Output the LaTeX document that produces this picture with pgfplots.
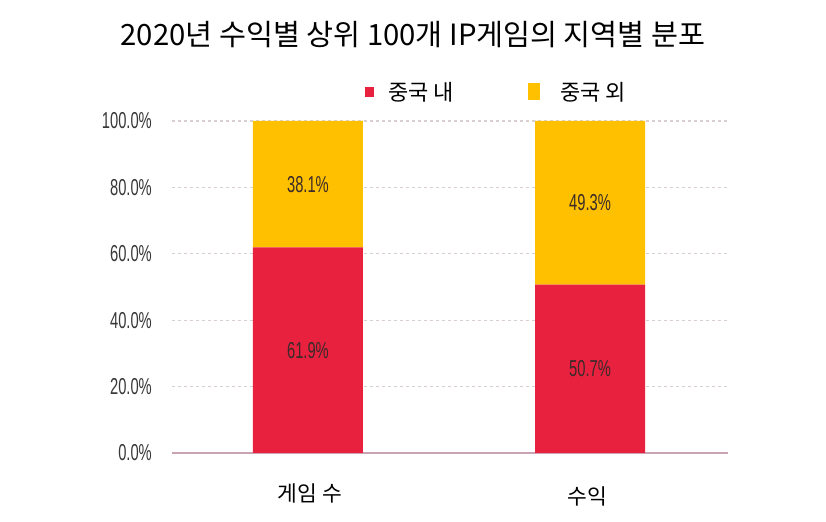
\documentclass[border=0pt]{standalone}
\usepackage{pgfplots}
\pgfplotsset{compat=1.18}
\usepackage{fontspec}
\setmainfont{Noto Sans CJK KR}
\newfontfamily\kr{Noto Sans CJK KR}
\newfontfamily\lib{Liberation Sans}
\definecolor{cred}{HTML}{E8213F}
\definecolor{cyel}{HTML}{FFC000}
\definecolor{gridc}{HTML}{D9CFD1}
\definecolor{axc}{HTML}{C9A3B3}
\definecolor{lblc}{HTML}{3A2A2A}
\begin{document}
\begin{tikzpicture}
\fill[white] (0,0) rectangle (826bp,522bp);
\useasboundingbox (0,0) rectangle (826bp,522bp);
\begin{axis}[
  at={(172bp,69bp)}, anchor=south west,
  scale only axis, width=556bp, height=332bp,
  ybar stacked, bar width=110bp,
  xmin=-0.482, xmax=1.489, ymin=0, ymax=100,
  xtick=\empty,
  ytick={0,20,40,60,80,100},
  yticklabels={0.0\%,20.0\%,40.0\%,60.0\%,80.0\%,100.0\%},
  yticklabel style={font=\lib\fontsize{23bp}{23bp}\selectfont, text=black!78, xscale=0.64, anchor=east, xshift=-28bp},
  ymajorgrids, major grid style={gridc, dash pattern=on 3bp off 3bp, line width=1.3bp},
  axis x line*=bottom,
  y axis line style={draw=none},
  x axis line style={axc, line width=1.6bp, -},
  major tick length=0pt,
  clip=false,
]
\addplot[fill=cred, draw=none] coordinates {(0,61.9) (1,50.7)};
\addplot[fill=cyel, draw=none] coordinates {(0,38.1) (1,49.3)};
\coordinate (l1) at (axis cs:0,30.95);
\coordinate (l2) at (axis cs:0,80.95);
\coordinate (l3) at (axis cs:1,25.35);
\coordinate (l4) at (axis cs:1,75.35);
\end{axis}
\tikzset{dl/.style={font=\lib\fontsize{23bp}{23bp}\selectfont, text=lblc, xscale=0.64}}
\node[dl] at (l1) {61.9\%};
\node[dl] at (l2) {38.1\%};
\node[dl] at (l3) {50.7\%};
\node[dl] at (l4) {49.3\%};
\node[font=\kr\fontsize{29.3bp}{29.3bp}\selectfont] at (413bp,487bp) {2020년 수익별 상위 100개 IP게임의 지역별 분포};
\fill[cred] (365bp,425bp) rectangle (374bp,435bp);
\node[font=\kr\fontsize{22bp}{22bp}\selectfont, anchor=west, inner sep=0pt] at (388bp,430bp) {중국 내};
\fill[cyel] (528bp,422bp) rectangle (540bp,439bp);
\node[font=\kr\fontsize{22bp}{22bp}\selectfont, anchor=west, inner sep=0pt] at (560bp,430bp) {중국 외};
\node[font=\kr\fontsize{21.5bp}{21.5bp}\selectfont] at (310bp,29bp) {게임 수};
\node[font=\kr\fontsize{21.5bp}{21.5bp}\selectfont] at (587bp,26bp) {수익};
\end{tikzpicture}
\end{document}
